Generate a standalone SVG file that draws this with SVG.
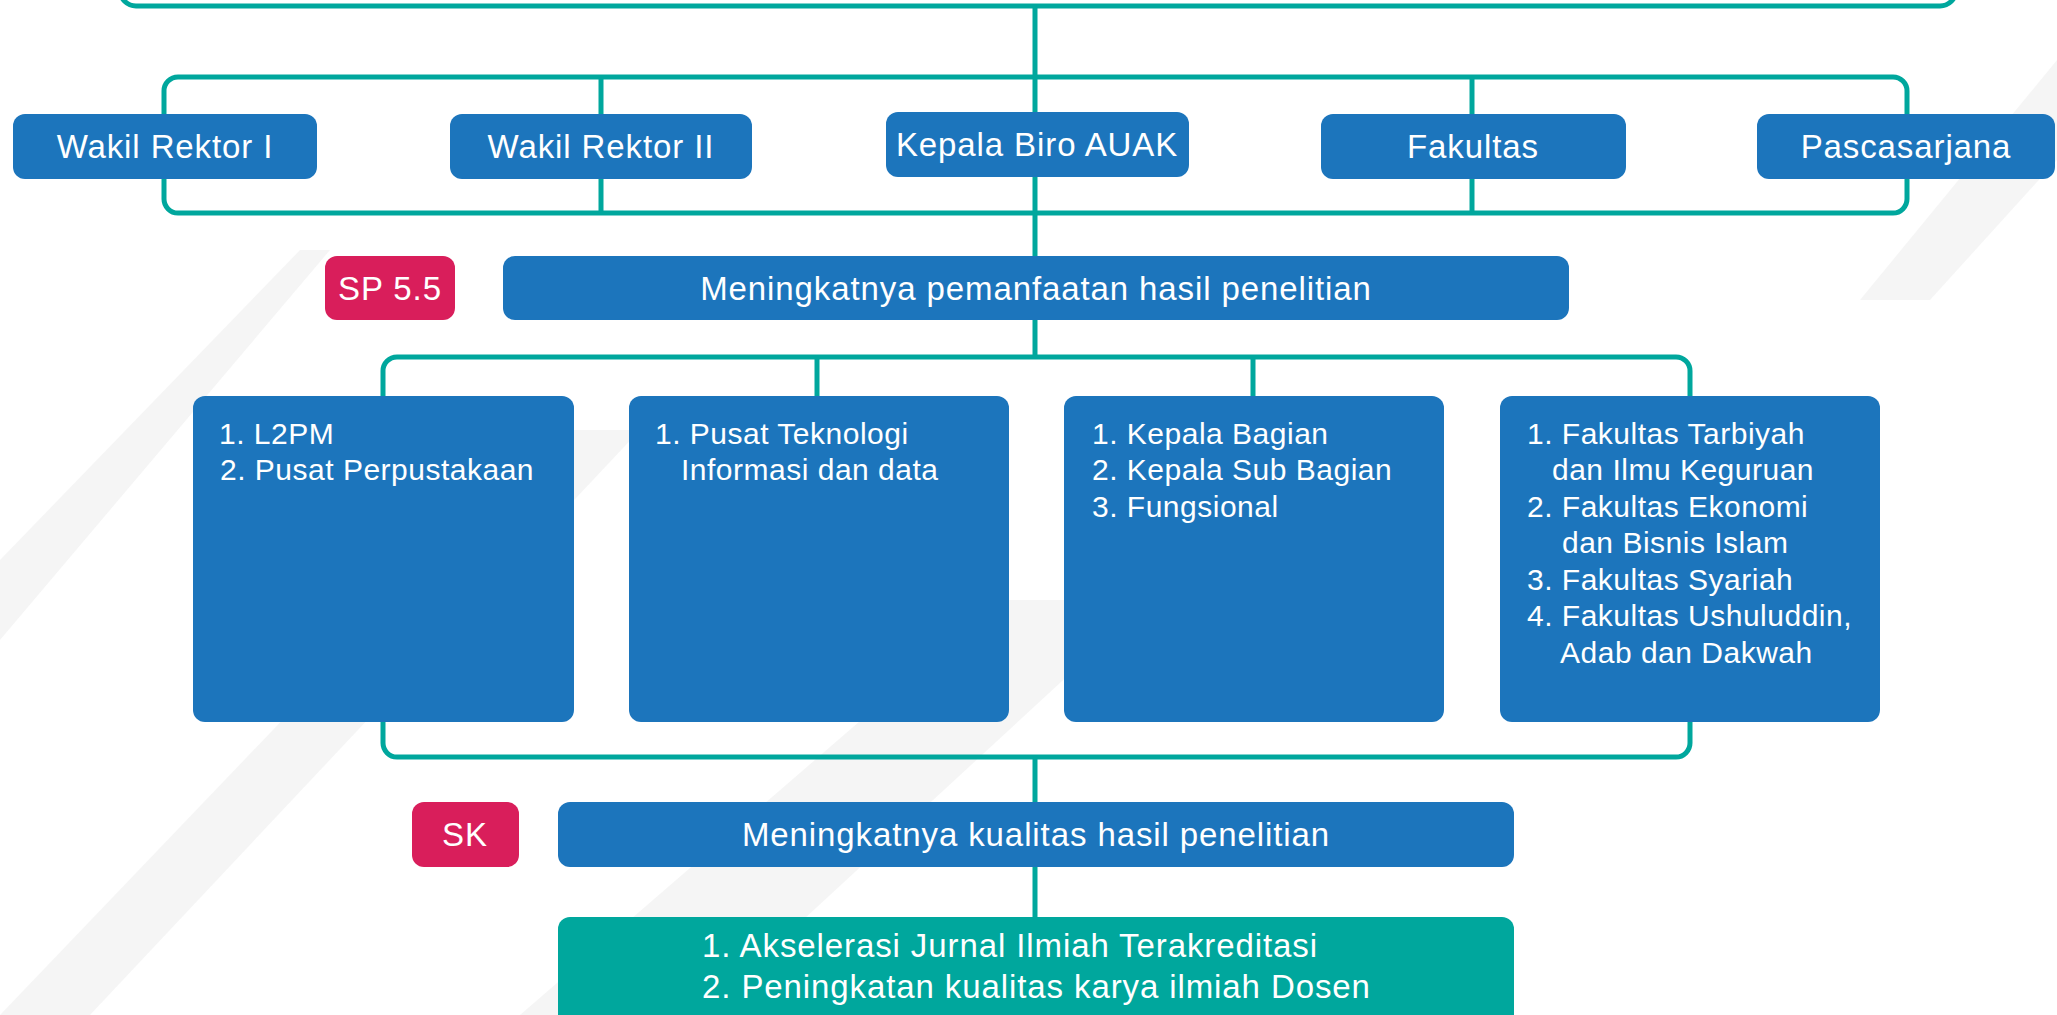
<svg xmlns="http://www.w3.org/2000/svg" width="2057" height="1015" viewBox="0 0 2057 1015">
<style>
.bg{fill:#ffffff}
.streak{fill:#f1f1f1;opacity:0.7}
.ln{fill:none;stroke:#00A79D;stroke-width:5}
.node{fill:#1C75BC}
.tag{fill:#D91E5B}
.goal{fill:#00A79D}
.t{font-family:"Liberation Sans",Arial,sans-serif;font-size:33px;letter-spacing:0.9px;fill:#ffffff}
.c{text-anchor:middle}
.li{font-family:"Liberation Sans",Arial,sans-serif;font-size:30px;letter-spacing:0.5px;fill:#ffffff}
</style>
<rect class="bg" x="0" y="0" width="2057" height="1015"/>
<g id="background">
<polygon class="streak" points="0,560 300,250 330,250 0,640"/>
<polygon class="streak" points="0,1015 560,430 640,430 90,1015"/>
<polygon class="streak" points="520,1015 1000,600 1150,600 700,1015"/>
<polygon class="streak" points="1860,300 2057,60 2057,160 1930,300"/>
</g>
<g id="connectors">
<rect class="ln" x="120" y="-60" width="1836" height="66" rx="16"/>
<line class="ln" x1="1035" y1="6" x2="1035" y2="256"/>
<rect class="ln" x="164" y="77" width="1743" height="136" rx="14"/>
<line class="ln" x1="601" y1="77" x2="601" y2="213"/>
<line class="ln" x1="1472" y1="77" x2="1472" y2="213"/>
<line class="ln" x1="1035" y1="320" x2="1035" y2="357"/>
<rect class="ln" x="383" y="357" width="1307" height="400" rx="14"/>
<line class="ln" x1="817" y1="357" x2="817" y2="400"/>
<line class="ln" x1="1253" y1="357" x2="1253" y2="400"/>
<line class="ln" x1="1035" y1="757" x2="1035" y2="920"/>
</g>
<g id="wakil-rektor-1"><rect class="node" x="13" y="114" width="304" height="65" rx="12"/><text class="t c" x="165" y="158">Wakil Rektor I</text></g>
<g id="wakil-rektor-2"><rect class="node" x="450" y="114" width="302" height="65" rx="12"/><text class="t c" x="601" y="158">Wakil Rektor II</text></g>
<g id="kepala-biro"><rect class="node" x="886" y="112" width="303" height="65" rx="12"/><text class="t c" x="1037" y="156">Kepala Biro AUAK</text></g>
<g id="fakultas"><rect class="node" x="1321" y="114" width="305" height="65" rx="12"/><text class="t c" x="1473" y="158">Fakultas</text></g>
<g id="pascasarjana"><rect class="node" x="1757" y="114" width="298" height="65" rx="12"/><text class="t c" x="1906" y="158">Pascasarjana</text></g>
<g id="sp55"><rect class="tag" x="325" y="256" width="130" height="64" rx="12"/><text class="t c" x="390" y="300">SP 5.5</text></g>
<g id="sasaran-pemanfaatan"><rect class="node" x="503" y="256" width="1066" height="64" rx="12"/><text class="t c" x="1036" y="300">Meningkatnya pemanfaatan hasil penelitian</text></g>
<g id="unit-1"><rect class="node" x="193" y="396" width="381" height="326" rx="12"/>
<text class="li" x="219" y="444">1. L2PM</text>
<text class="li" x="220" y="480">2. Pusat Perpustakaan</text></g>
<g id="unit-2"><rect class="node" x="629" y="396" width="380" height="326" rx="12"/>
<text class="li" x="655" y="444">1. Pusat Teknologi</text>
<text class="li" x="681" y="480">Informasi dan data</text></g>
<g id="unit-3"><rect class="node" x="1064" y="396" width="380" height="326" rx="12"/>
<text class="li" x="1092" y="444">1. Kepala Bagian</text>
<text class="li" x="1092" y="480">2. Kepala Sub Bagian</text>
<text class="li" x="1092" y="517">3. Fungsional</text></g>
<g id="unit-4"><rect class="node" x="1500" y="396" width="380" height="326" rx="12"/>
<text class="li" x="1527" y="444">1. Fakultas Tarbiyah</text>
<text class="li" x="1552" y="480">dan Ilmu Keguruan</text>
<text class="li" x="1527" y="517">2. Fakultas Ekonomi</text>
<text class="li" x="1562" y="553">dan Bisnis Islam</text>
<text class="li" x="1527" y="590">3. Fakultas Syariah</text>
<text class="li" x="1527" y="626">4. Fakultas Ushuluddin,</text>
<text class="li" x="1560" y="663">Adab dan Dakwah</text></g>
<g id="sk"><rect class="tag" x="412" y="802" width="107" height="65" rx="12"/><text class="t c" x="465" y="846">SK</text></g>
<g id="sasaran-kualitas"><rect class="node" x="558" y="802" width="956" height="65" rx="12"/><text class="t c" x="1036" y="846">Meningkatnya kualitas hasil penelitian</text></g>
<g id="program"><rect class="goal" x="558" y="917" width="956" height="130" rx="12"/>
<text class="t" x="702" y="957">1. Akselerasi Jurnal Ilmiah Terakreditasi</text>
<text class="t" x="702" y="998">2. Peningkatan kualitas karya ilmiah Dosen</text></g>
</svg>
